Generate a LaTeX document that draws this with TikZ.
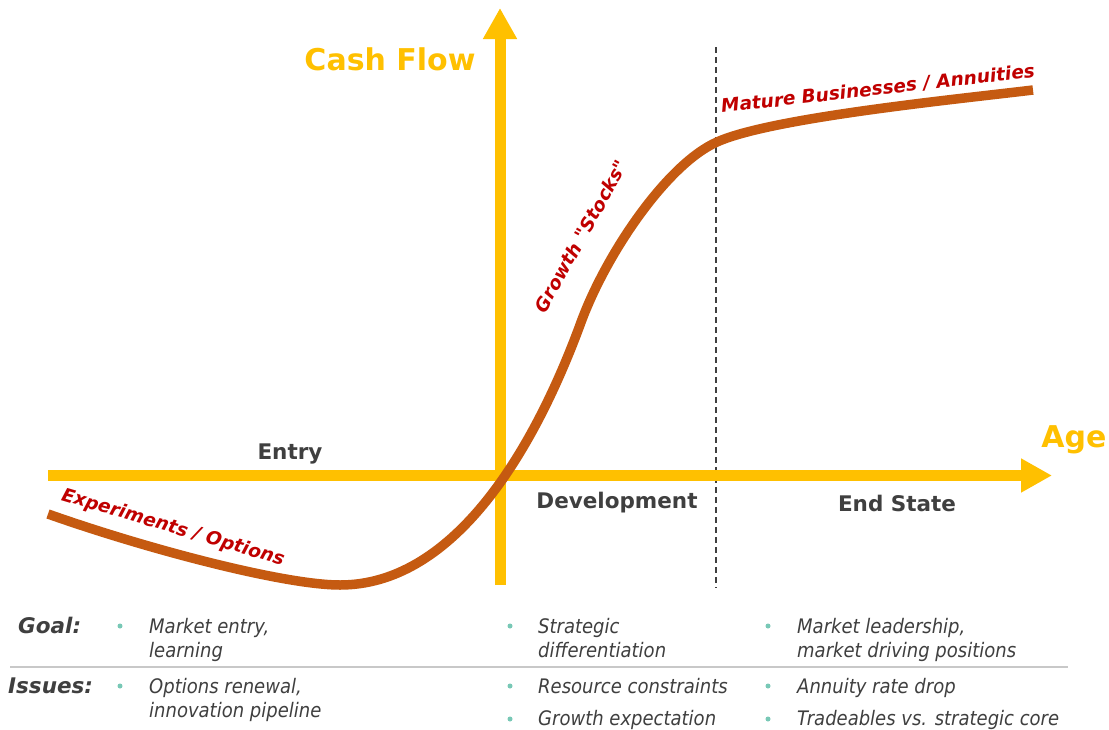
\documentclass[tikz,border=0pt]{standalone}
\usepackage{fontspec}
\setmainfont{DejaVu Sans}
\newfontfamily\bodyfont{DejaVu Sans}[FakeStretch=0.9]
\newfontfamily\stagefont{DejaVu Sans}
\usetikzlibrary{arrows.meta}
\definecolor{axisc}{HTML}{FFC000}
\definecolor{curvec}{HTML}{C55A11}
\definecolor{redc}{HTML}{C00000}
\definecolor{grayc}{HTML}{3F3F3F}
\definecolor{bulc}{HTML}{78C8B6}
\definecolor{sepc}{HTML}{C8C8C8}
\tikzset{
  axisline/.style={draw=axisc,line width=11pt,-{Triangle[length=31pt,width=32pt]}},
  curveline/.style={draw=curvec,line width=9.5pt},
  axlabel/.style={text=axisc,font=\fontsize{30}{36}\selectfont\bfseries,anchor=base,inner sep=0pt},
  phase/.style={text=grayc,font=\fontsize{21.5}{26}\selectfont\bfseries,anchor=base,inner sep=0pt},
  stage/.style={text=redc,font=\stagefont\fontsize{18.5}{22}\selectfont\bfseries\itshape,inner sep=0pt},
  rowlabel/.style={text=grayc,font=\fontsize{21.5}{26}\selectfont\bfseries\itshape,anchor=base west,inner sep=0pt},
  body/.style={text=grayc,font=\bodyfont\fontsize{20}{24}\selectfont\itshape,anchor=base west,inner sep=0pt},
  bullet/.style={circle,fill=bulc,inner sep=0pt,minimum size=5pt},
  divider/.style={draw=grayc,line width=1.4pt,dash pattern=on 6pt off 4pt},
  sepline/.style={draw=sepc,line width=1.2pt}
}
\begin{document}
\begin{tikzpicture}[x=1pt,y=-1pt]
\useasboundingbox (0,0) rectangle (1109,729);
\fill[white] (0,0) rectangle (1109,729);

% dashed divider
\coordinate (dtop) at (716,47);
\coordinate (dbot) at (716,588);
\draw[divider] (dtop) -- (dbot);

% axes
\coordinate (hstart) at (48,475.5);
\coordinate (hend) at (1052,475.5);
\coordinate (vstart) at (500,585);
\coordinate (vend) at (500,8);
\draw[axisline] (hstart) -- (hend);
\draw[axisline] (vstart) -- (vend);

% curve
\coordinate (c0) at (48,514);
\coordinate (c1) at (340,585);
\coordinate (c2) at (580,325);
\coordinate (c3) at (717,142);
\coordinate (c4) at (1033,90);
\draw[curveline] (c0) .. controls (150,550) and (285,585) .. (c1)
  .. controls (450,585) and (530,460) .. (c2)
  .. controls (605,255) and (667,164) .. (c3)
  .. controls (770,118) and (950,100) .. (c4);

% axis labels
\node[axlabel] (cash) at (390,70) {Cash Flow};
\node[axlabel] (age) at (1074,447) {Age};

% phases
\node[phase] (entry) at (290,459) {Entry};
\node[phase] (dev) at (617,508) {Development};
\node[phase] (end) at (897,511) {End State};

% stage labels
\node[stage,rotate=-16.5] (exp) at (173,528) {Experiments / Options};
\node[stage,rotate=61] (growth) at (581,236) {Growth "Stocks"};
\node[stage,rotate=6.5] (mature) at (878,89) {Mature Businesses / Annuities};

% bottom table
\coordinate (sepl) at (10,667);
\coordinate (sepr) at (1068,667);
\draw[sepline] (sepl) -- (sepr);

\node[rowlabel] (goal) at (18,633) {Goal:};
\node[rowlabel] (issues) at (8,693) {Issues:};

\node[bullet] (b11) at (120,626) {};
\node[body] (g1a) at (149,633) {Market entry,};
\node[body] (g1b) at (149,657) {learning};
\node[bullet] (b12) at (120,686) {};
\node[body] (i1a) at (149,693) {Options renewal,};
\node[body] (i1b) at (149,717) {innovation pipeline};

\node[bullet] (b21) at (510,626) {};
\node[body] (g2a) at (538,633) {Strategic};
\node[body] (g2b) at (538,657) {differentiation};
\node[bullet] (b22) at (510,686) {};
\node[body] (i2a) at (538,693) {Resource constraints};
\node[bullet] (b23) at (510,719) {};
\node[body] (i2b) at (538,725) {Growth expectation};

\node[bullet] (b31) at (768,626) {};
\node[body] (g3a) at (797,633) {Market leadership,};
\node[body] (g3b) at (797,657) {market driving positions};
\node[bullet] (b32) at (768,686) {};
\node[body] (i3a) at (797,693) {Annuity rate drop};
\node[bullet] (b33) at (768,719) {};
\node[body] (i3b) at (797,725) {Tradeables vs. strategic core};
\end{tikzpicture}
\end{document}
